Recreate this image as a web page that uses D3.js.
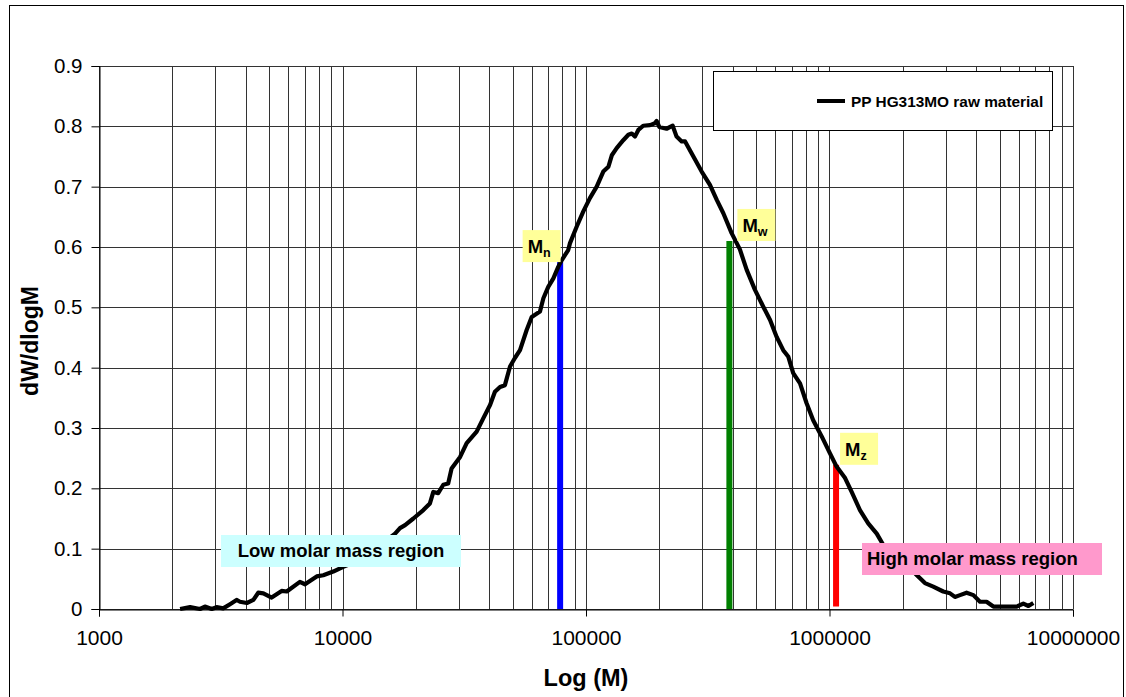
<!DOCTYPE html>
<html>
<head>
<meta charset="utf-8">
<script src="https://cdn.jsdelivr.net/npm/d3@7/dist/d3.min.js"></script>
<style>
  html, body { margin: 0; padding: 0; background: #fff; }
  svg { display: block; font-family: "Liberation Sans", Arial, sans-serif; }
</style>
</head>
<body>
<svg id="chart" width="1126" height="697"></svg>
<script>
// Molar mass distribution of PP HG313MO raw material (GPC)
// log10 of molar mass
const logM = [
  3.333, 3.374, 3.415, 3.435, 3.463, 3.483, 3.510, 3.538, 3.565, 3.579,
  3.607, 3.634, 3.654, 3.675, 3.709, 3.750, 3.771, 3.825, 3.846, 3.894,
  3.921, 3.962, 4.003, 4.051, 4.113, 4.166, 4.216, 4.236, 4.257, 4.291,
  4.332, 4.359, 4.373, 4.393, 4.414, 4.434, 4.448, 4.483, 4.510, 4.551,
  4.578, 4.606, 4.626, 4.647, 4.667, 4.688, 4.708, 4.729, 4.756, 4.777,
  4.811, 4.825, 4.845, 4.866, 4.886, 4.900, 4.927, 4.934, 4.962, 4.989,
  5.016, 5.044, 5.071, 5.092, 5.106, 5.126, 5.153, 5.174, 5.188, 5.201,
  5.215, 5.235, 5.263, 5.283, 5.290, 5.301, 5.331, 5.356, 5.372, 5.393,
  5.407, 5.441, 5.475, 5.509, 5.537, 5.564, 5.598, 5.632, 5.660, 5.694,
  5.728, 5.756, 5.783, 5.810, 5.831, 5.851, 5.879, 5.906, 5.933, 5.968,
  6.002, 6.029, 6.064, 6.091, 6.125, 6.159, 6.194, 6.221, 6.269, 6.290,
  6.331, 6.359, 6.392, 6.426, 6.467, 6.495, 6.515, 6.536, 6.563, 6.591,
  6.618, 6.645, 6.673, 6.728, 6.769, 6.796, 6.817, 6.837
];
// dW/dlogM
const dW = [
  0.000, 0.003, 0.000, 0.004, 0.000, 0.003, 0.001, 0.008, 0.015, 0.012,
  0.010, 0.015, 0.027, 0.026, 0.019, 0.030, 0.029, 0.045, 0.041, 0.054,
  0.056, 0.062, 0.070, 0.078, 0.093, 0.109, 0.125, 0.134, 0.139, 0.150,
  0.164, 0.175, 0.194, 0.192, 0.206, 0.208, 0.233, 0.252, 0.275, 0.294,
  0.316, 0.338, 0.360, 0.368, 0.371, 0.402, 0.416, 0.429, 0.462, 0.484,
  0.493, 0.515, 0.534, 0.548, 0.567, 0.578, 0.595, 0.606, 0.634, 0.659,
  0.681, 0.700, 0.725, 0.733, 0.752, 0.764, 0.777, 0.786, 0.788, 0.783,
  0.794, 0.801, 0.802, 0.805, 0.809, 0.799, 0.796, 0.801, 0.783, 0.775,
  0.775, 0.750, 0.725, 0.703, 0.678, 0.656, 0.623, 0.596, 0.562, 0.529,
  0.501, 0.479, 0.451, 0.429, 0.418, 0.391, 0.374, 0.341, 0.313, 0.286,
  0.258, 0.236, 0.217, 0.194, 0.164, 0.142, 0.125, 0.106, 0.088, 0.081,
  0.068, 0.056, 0.043, 0.037, 0.029, 0.026, 0.020, 0.023, 0.027, 0.023,
  0.012, 0.012, 0.004, 0.004, 0.004, 0.009, 0.005, 0.010
];

// Molar mass averages (Mn, Mw, Mz)
const avgNames = ["n", "w", "z"];
const avgM = [78300, 388000, 1064000];
const avgTop = [0.575, 0.610, 0.239];
const avgBottom = [0, 0, 0.004];
const avgColors = ["#0000ff", "#008000", "#ff0000"];

const xTicks = [1000, 10000, 100000, 1000000, 10000000];
const yTicks = [0, 0.1, 0.2, 0.3, 0.4, 0.5, 0.6, 0.7, 0.8, 0.9];

const seriesName = "PP HG313MO raw material";
const regionLabels = ["Low molar mass region", "High molar mass region"];

const svg = d3.select("#chart");
const x = d3.scaleLog().domain([1000, 10000000]).range([99, 1073]);
const y = d3.scaleLinear().domain([0, 0.9]).range([609, 66]);

// outer frame
svg.append("rect")
  .attr("x", 9.5).attr("y", 5.5).attr("width", 1114).attr("height", 700)
  .attr("fill", "#fff").attr("stroke", "#000").attr("stroke-width", 1);

// gridlines
const minorX = [];
for (let d = 1000; d < 10000000; d *= 10) {
  for (let k = 1; k <= 9; k++) minorX.push(d * k);
}
minorX.push(10000000);
svg.append("g").selectAll("line").data(minorX).join("line")
  .attr("x1", d => Math.round(x(d)) + 0.5).attr("x2", d => Math.round(x(d)) + 0.5)
  .attr("y1", y(0.9)).attr("y2", y(0))
  .attr("stroke", "#333").attr("stroke-width", 1);
svg.append("g").selectAll("line").data(yTicks).join("line")
  .attr("x1", x(1000)).attr("x2", x(10000000))
  .attr("y1", d => Math.round(y(d)) + 0.5).attr("y2", d => Math.round(y(d)) + 0.5)
  .attr("stroke", "#333").attr("stroke-width", 1);

// axes
const xAxis = d3.axisBottom(x).tickValues(xTicks).tickFormat(d3.format("d"))
  .tickSize(7).tickPadding(14);
const gx = svg.append("g").attr("transform", `translate(0,${Math.round(y(0)) + 0.5})`).call(xAxis);
gx.select(".domain").attr("stroke", "#000");
gx.selectAll(".tick line").attr("stroke", "#000");
gx.selectAll("text").attr("font-size", 21).attr("fill", "#000")
  .attr("font-family", "Liberation Sans, Arial, sans-serif");

const yAxis = d3.axisLeft(y).tickValues(yTicks).tickFormat(d => d === 0 ? "0" : d3.format(".1f")(d))
  .tickSize(8).tickPadding(9);
const gy = svg.append("g").attr("transform", `translate(${Math.round(x(1000)) + 0.5},0)`).call(yAxis);
gy.select(".domain").attr("stroke", "#000");
gy.selectAll(".tick line").attr("stroke", "#000");
gy.selectAll("text").attr("font-size", 20.5).attr("fill", "#000")
  .attr("font-family", "Liberation Sans, Arial, sans-serif");

// axis titles
svg.append("text").attr("x", 586).attr("y", 686).attr("text-anchor", "middle")
  .attr("font-size", 23.5).attr("font-weight", "bold").text("Log (M)");
svg.append("text").attr("transform", "translate(38,341) rotate(-90)")
  .attr("text-anchor", "middle").attr("font-size", 23).attr("font-weight", "bold")
  .text("dW/dlogM");

// molar mass average markers
svg.append("g").selectAll("line").data(avgM).join("line")
  .attr("x1", d => x(d)).attr("x2", d => x(d))
  .attr("y1", (d, i) => y(avgBottom[i])).attr("y2", (d, i) => y(avgTop[i]))
  .attr("stroke", (d, i) => avgColors[i]).attr("stroke-width", 6);

// distribution curve
const pts = logM.map((l, i) => [Math.pow(10, l), dW[i]]);
svg.append("path").datum(pts)
  .attr("d", d3.line().x(d => x(d[0])).y(d => y(d[1])))
  .attr("fill", "none").attr("stroke", "#000").attr("stroke-width", 4.2)
  .attr("stroke-linejoin", "round");

// average labels (M with subscript)
const labelOffset = [-37.5, 8, 4];
const labelBox = avgM.map((m, i) => ({ m, top: avgTop[i], name: avgNames[i], off: labelOffset[i] }));
const lab = svg.append("g").selectAll("g").data(labelBox).join("g")
  .attr("transform", d => `translate(${x(d.m) + d.off},${y(d.top) - 32})`);
lab.append("rect").attr("width", 38).attr("height", 32).attr("fill", "#ffff99");
const lt = lab.append("text").attr("x", 5).attr("y", 23).attr("font-weight", "bold").attr("font-size", 18.5);
lt.append("tspan").text("M");
lt.append("tspan").attr("font-size", 12.5).attr("dy", 4).text(d => d.name);

// region labels
const lowG = svg.append("g");
lowG.append("rect").attr("x", 221).attr("y", 535).attr("width", 240).attr("height", 32).attr("fill", "#ccffff");
lowG.append("text").attr("x", 341).attr("y", 557).attr("text-anchor", "middle")
  .attr("font-size", 18.5).attr("font-weight", "bold").text(regionLabels[0]);
const highG = svg.append("g");
highG.append("rect").attr("x", 862).attr("y", 543).attr("width", 240).attr("height", 32).attr("fill", "#ff99cc");
highG.append("text").attr("x", 867).attr("y", 565)
  .attr("font-size", 18.5).attr("font-weight", "bold").text(regionLabels[1]);

// legend
const lg = svg.append("g");
lg.append("rect").attr("x", 713.5).attr("y", 71.5).attr("width", 339).attr("height", 59)
  .attr("fill", "#fff").attr("stroke", "#000").attr("stroke-width", 1);
lg.append("line").attr("x1", 817).attr("x2", 845).attr("y1", 101).attr("y2", 101)
  .attr("stroke", "#000").attr("stroke-width", 4);
lg.append("text").attr("x", 851).attr("y", 106.5).attr("font-size", 15.4).attr("font-weight", "bold")
  .text(seriesName);
</script>
</body>
</html>
